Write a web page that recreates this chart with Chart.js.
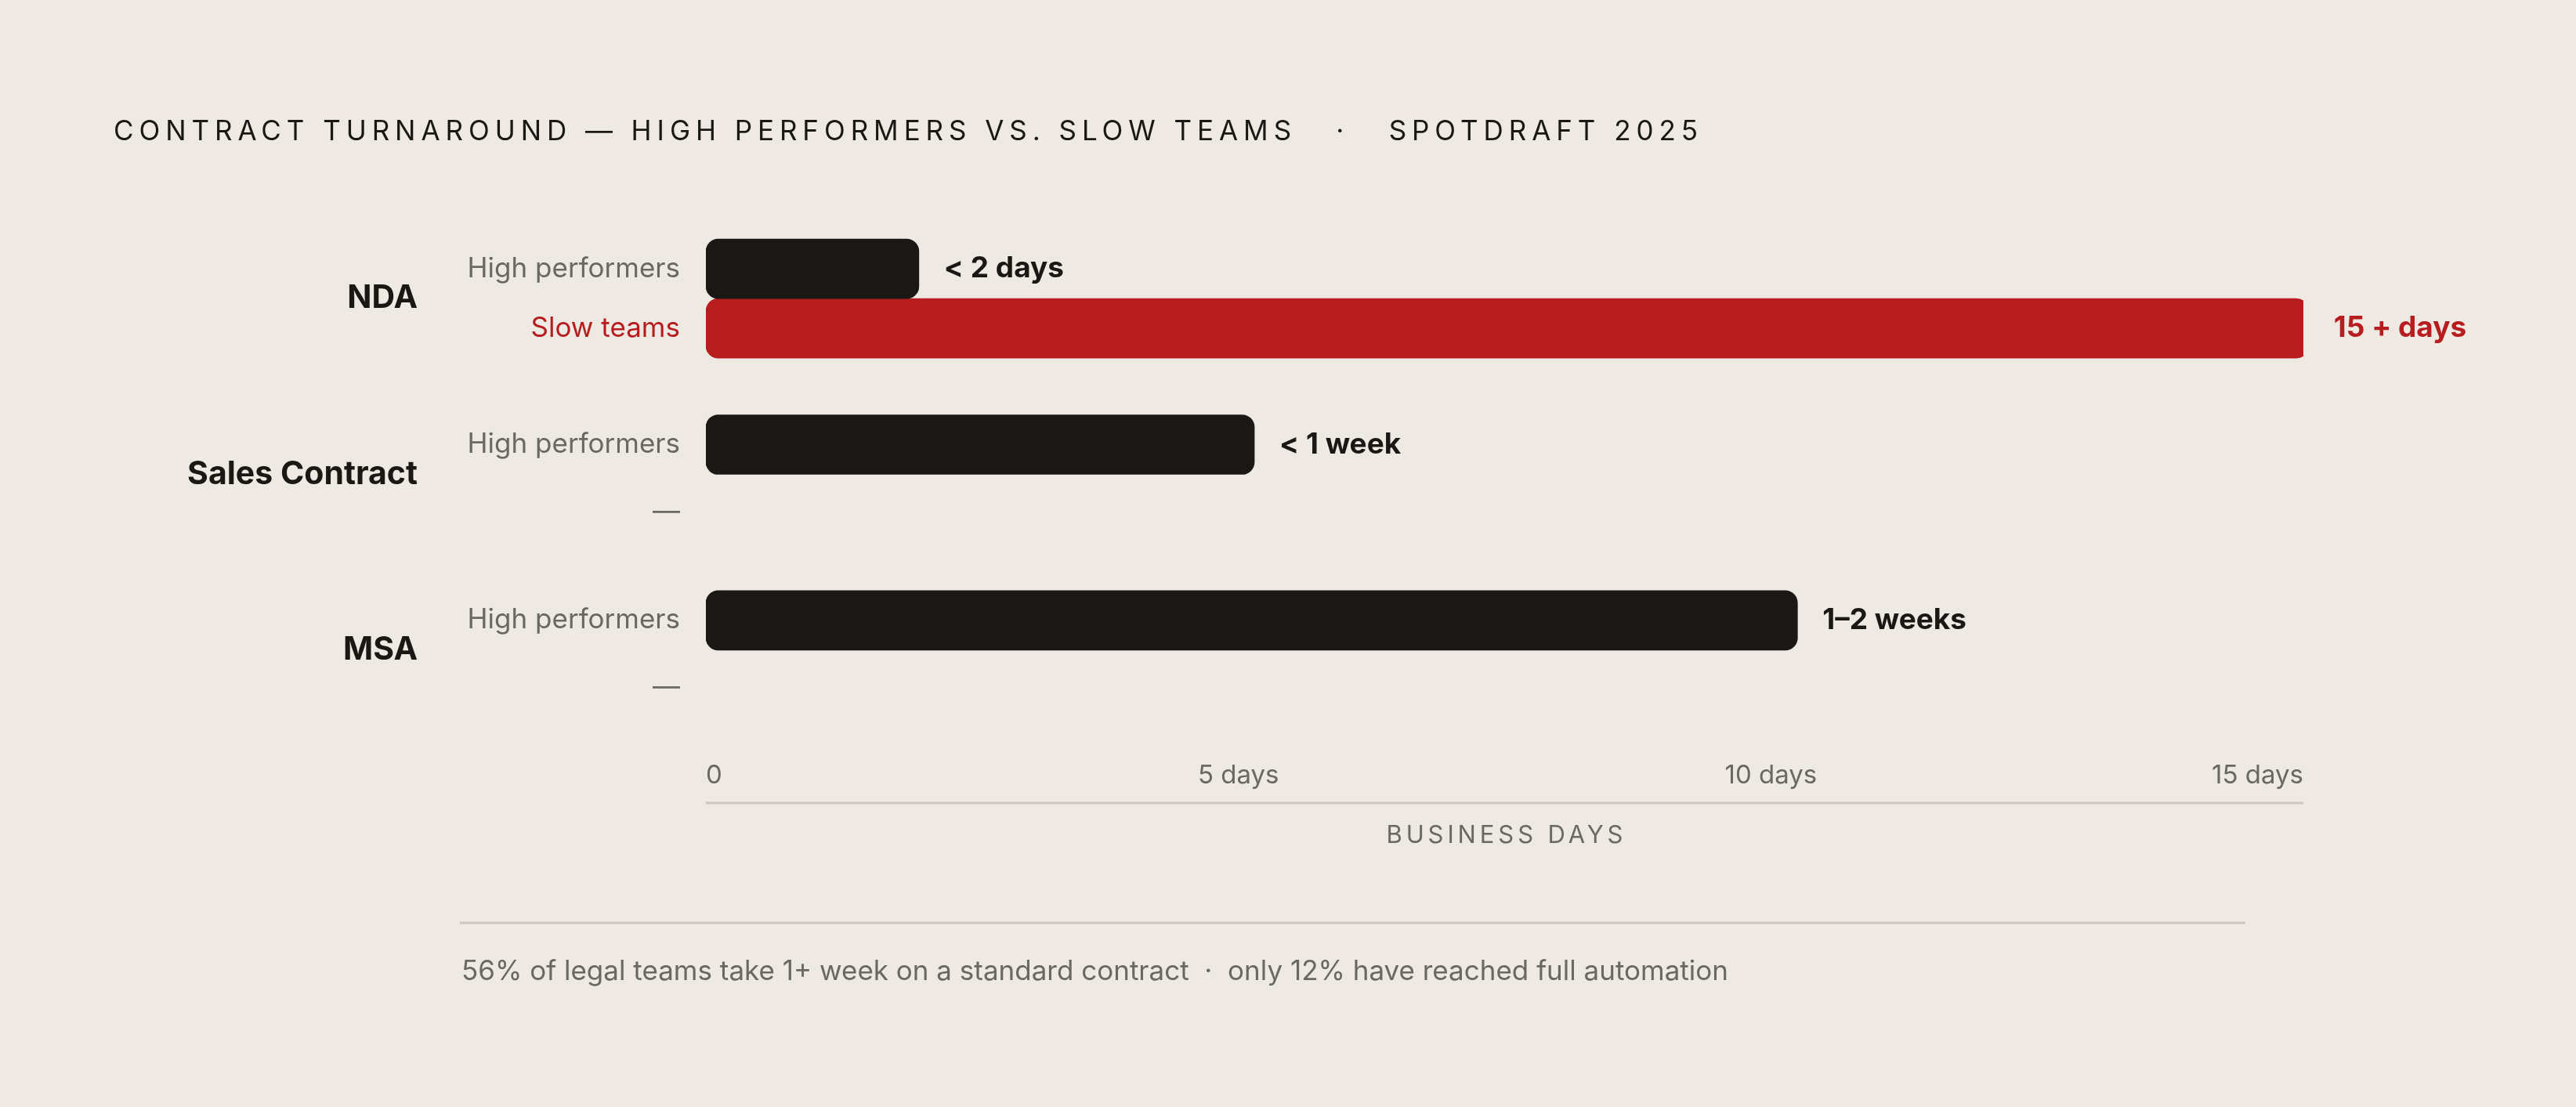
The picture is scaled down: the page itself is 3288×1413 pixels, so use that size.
<!DOCTYPE html>
<html><head><meta charset="utf-8">
<script src="https://cdn.jsdelivr.net/npm/chart.js@4/dist/chart.umd.min.js"></script>
<style>html,body{margin:0;padding:0;background:#EEEAE3;}#wrap{width:3288px;height:1413px;position:relative}</style>
</head><body><div id="wrap"><canvas id="c" width="3288" height="1413"></canvas></div>
<script>
const categories = ["NDA", "Sales Contract", "MSA"];
const highValues = [2, 5.15, 10.25];
const slowValues = [15.05, null, null];
const highLabels = ["< 2 days", "< 1 week", "1–2 weeks"];
const slowLabels = ["15 + days", null, null];
const seriesNames = ["High performers", "Slow teams"];
const tickValues = [0, 5, 10, 15];
const tickLabels = ["0", "5 days", "10 days", "15 days"];
const titleText = "CONTRACT TURNAROUND — HIGH PERFORMERS VS. SLOW TEAMS   ·   SPOTDRAFT 2025";
const axisTitle = "BUSINESS DAYS";
const footText = "56% of legal teams take 1+ week on a standard contract  ·  only 12% have reached full automation";

const DARK = "#1A1814", RED = "#B71C1E", GRAY = "#6B6862", LINE = "#CBC7C0";
const FONT = "Inter, 'DejaVu Sans', sans-serif";

function spaced(ctx, text, x, y, targetW, align) {
  ctx.letterSpacing = "0px";
  const w0 = ctx.measureText(text).width;
  const ls = (targetW - w0) / (text.length - 1);
  ctx.letterSpacing = ls + "px";
  let sx = x;
  if (align === "center") sx = x - targetW / 2;
  ctx.textAlign = "left";
  ctx.fillText(text, sx, y);
  ctx.letterSpacing = "0px";
}

const deco = {
  id: "deco",
  afterDatasetsDraw(chart) {
    const ctx = chart.ctx, xs = chart.scales.x, ca = chart.chartArea;
    ctx.save();
    ctx.textBaseline = "middle";
    // title
    ctx.fillStyle = DARK; ctx.font = "400 35px " + FONT;
    spaced(ctx, titleText, 145, 168, 2022, "left");
    // bars labels
    chart.data.datasets.forEach((ds, di) => {
      const meta = chart.getDatasetMeta(di);
      meta.data.forEach((bar, i) => {
        const y = bar.y;
        ctx.textAlign = "right";
        ctx.font = "400 35px " + FONT;
        if (ds.data[i] == null) {
          ctx.fillStyle = GRAY; ctx.fillText("—", 868, y + 10);
        } else {
          ctx.fillStyle = di === 1 ? RED : GRAY;
          ctx.fillText(seriesNames[di], 868, y);
          ctx.textAlign = "left";
          ctx.font = "700 37px " + FONT;
          ctx.fillStyle = di === 1 ? RED : DARK;
          ctx.fillText(ds.valueLabels[i], bar.x + 32, y);
        }
      });
    });
    // category labels
    const m0 = chart.getDatasetMeta(0), m1 = chart.getDatasetMeta(1);
    ctx.textAlign = "right"; ctx.fillStyle = DARK; ctx.font = "700 41px " + FONT;
    categories.forEach((c, i) => ctx.fillText(c, 533, (m0.data[i].y + m1.data[i].y) / 2));
    // ticks
    ctx.font = "400 33px " + FONT; ctx.fillStyle = GRAY;
    tickValues.forEach((v, i) => {
      const px = xs.getPixelForValue(v);
      ctx.textAlign = i === 0 ? "left" : (i === tickValues.length - 1 ? "right" : "center");
      ctx.fillText(tickLabels[i], px, 990);
    });
    ctx.strokeStyle = LINE; ctx.lineWidth = 3;
    ctx.beginPath(); ctx.moveTo(xs.getPixelForValue(0), 1025); ctx.lineTo(xs.getPixelForValue(15), 1025); ctx.stroke();
    ctx.font = "400 31px " + FONT; ctx.fillStyle = GRAY;
    spaced(ctx, axisTitle, (xs.getPixelForValue(0) + xs.getPixelForValue(15)) / 2, 1067, 302, "center");
    ctx.beginPath(); ctx.moveTo(587, 1178); ctx.lineTo(2866, 1178); ctx.stroke();
    ctx.textAlign = "left"; ctx.font = "400 35px " + FONT; ctx.fillStyle = GRAY;
    ctx.fillText(footText, 589, 1240);
    ctx.restore();
  }
};

new Chart(document.getElementById("c"), {
  type: "bar",
  data: {
    labels: categories,
    datasets: [
      { label: seriesNames[0], data: highValues, valueLabels: highLabels, backgroundColor: DARK },
      { label: seriesNames[1], data: slowValues, valueLabels: slowLabels, backgroundColor: RED }
    ]
  },
  options: {
    indexAxis: "y", responsive: false, animation: false,
    layout: { padding: { left: 901, right: 348, top: 269, bottom: 471 } },
    datasets: { bar: { barThickness: 76, borderRadius: 16, borderSkipped: false, categoryPercentage: 0.86, barPercentage: 0.8 } },
    scales: {
      x: { display: false, min: 0, max: 15 },
      y: { display: false }
    },
    plugins: { legend: { display: false }, tooltip: { enabled: false } }
  },
  plugins: [deco]
});
</script></body></html>
